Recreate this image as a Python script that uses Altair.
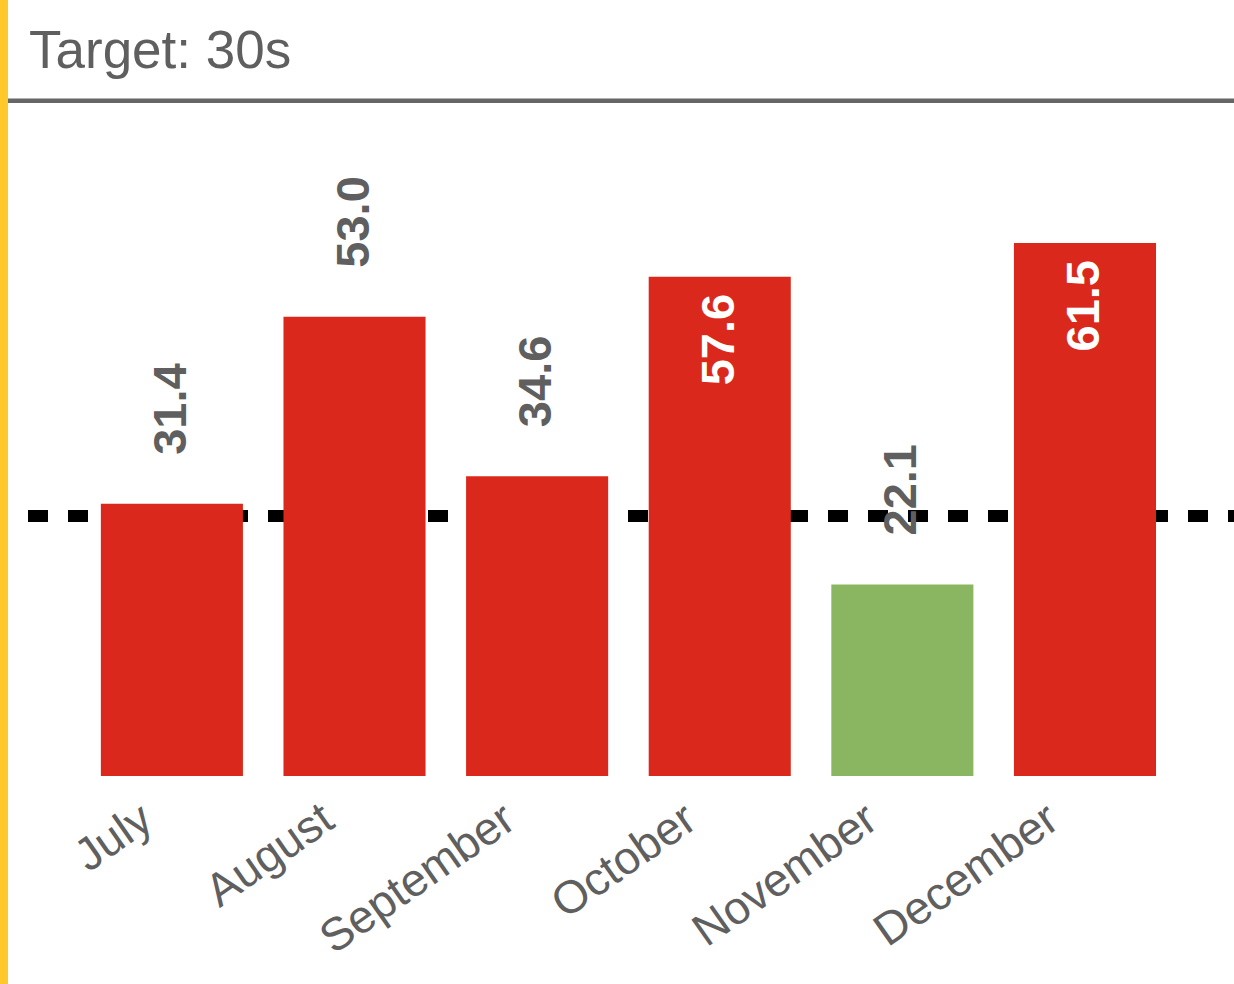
import altair as alt
import pandas as pd

months = ["July", "August", "September", "October", "November", "December"]
values = [31.4, 53.0, 34.6, 57.6, 22.1, 61.5]
target = 30
title_text = "Target: 30s"

RED = "#DA291C"
GREEN = "#8AB661"
GRAY = "#5f5f5f"
YELLOW = "#FFC92C"
FONT = "Liberation Sans"

df = pd.DataFrame({
    "month": months,
    "value": values,
    "status": ["over" if v > target else "under" for v in values],
    "label": [f"{v:.1f}" for v in values],
})

month_list = "[" + ",".join(f"'{m}'" for m in months) + "]"

x_scale = alt.Scale(paddingInner=0.222, paddingOuter=0.413, align=0.483)
x_enc = alt.X(
    "month:N",
    sort=months,
    title=None,
    scale=x_scale,
    axis=alt.Axis(
        labelAngle=-35,
        labelFontSize=46,
        labelColor=GRAY,
        labelFont=FONT,
        labelAlign="right",
        labelBaseline="top",
        labelPadding=20,
        labelLimit=0,
        labelOffset=alt.ExprRef(f"-37 - 1.4 * indexof({month_list}, datum.value)"),
        domain=False,
        ticks=False,
        grid=False,
    ),
)
y_scale = alt.Scale(domain=[0, 78], nice=False, zero=True)
y_enc = alt.Y("value:Q", scale=y_scale, axis=None)

base = alt.Chart(df)

rule = alt.Chart(pd.DataFrame({"t": [target]})).mark_rule(
    color="black", strokeWidth=12, strokeDash=[20, 20]
).encode(
    y=alt.Y("t:Q", scale=y_scale, axis=None),
    x=alt.value(0),
    x2=alt.value(1206),
)

bars = base.mark_bar().encode(
    x=x_enc,
    y=y_enc,
    color=alt.Color("status:N", scale=alt.Scale(domain=["over", "under"], range=[RED, GREEN]), legend=None),
)

labels_out = base.transform_filter(alt.datum.value <= 55).mark_text(
    angle=270, align="left", baseline="middle", dx=49,
    fontSize=47, fontWeight="bold", color=GRAY, font=FONT,
).encode(x=alt.X("month:N", sort=months), y=y_enc, text="label:N")

labels_in = base.transform_filter(alt.datum.value > 55).mark_text(
    angle=270, align="right", baseline="middle", dx=-17,
    fontSize=47, fontWeight="bold", color="white", font=FONT,
).encode(x=alt.X("month:N", sort=months), y=y_enc, text="label:N")

one = pd.DataFrame({"t": [title_text]})
yellow = alt.Chart(one).mark_rect(color=YELLOW).encode(
    x=alt.value(-28), x2=alt.value(-20), y=alt.value(-100), y2=alt.value(884)
)
top_line = alt.Chart(one).mark_rect(color="#666666").encode(
    x=alt.value(-20), x2=alt.value(1206), y=alt.value(-1.5), y2=alt.value(3)
)
title = alt.Chart(one).mark_text(
    align="left", baseline="alphabetic", fontSize=53, color=GRAY, font=FONT
).encode(text="t:N", x=alt.value(1), y=alt.value(-32))

chart = alt.layer(rule, bars, labels_out, labels_in, yellow, top_line, title).properties(
    width=1206,
    height=676,
    padding={"left": 28, "top": 100, "right": 0, "bottom": 208},
    autosize=alt.AutoSizeParams(type="none"),
    background="white",
).configure_view(stroke=None)

chart.save("out.html", embed_options={"renderer": "svg", "actions": False})
